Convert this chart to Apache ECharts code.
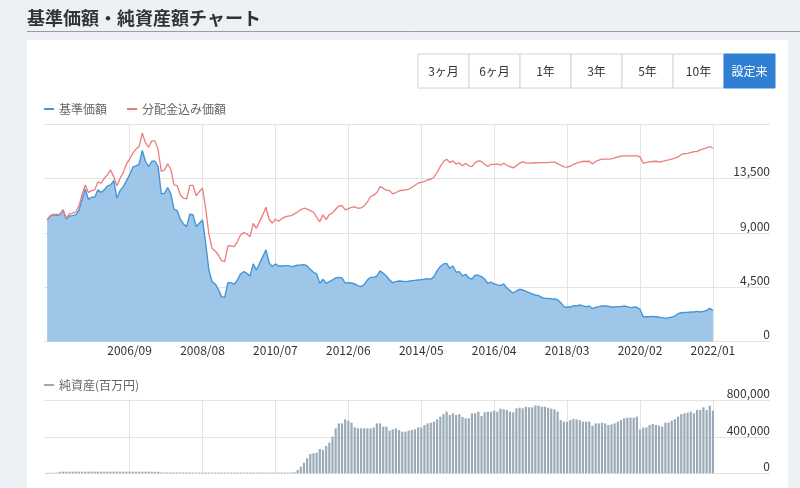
<!DOCTYPE html>
<html><head><meta charset="utf-8">
<script src="https://cdn.jsdelivr.net/npm/echarts@6.0.0/dist/echarts.min.js"></script>
<style>html,body{margin:0;padding:0;background:#edf0f4;}#c{width:800px;height:488px;}</style>
</head><body><div id="c"></div>
<script>
// ---- data ----
const startYear = 2004, startMonth = 7; // first data month 2004/07, monthly
const tickLabels = ['2006/09','2008/08','2010/07','2012/06','2014/05','2016/04','2018/03','2020/02','2022/01'];
const rangeButtons = ['3ヶ月','6ヶ月','1年','3年','5年','10年','設定来'];
const seriesNames = ['基準価額','分配金込み価額','純資産(百万円)'];

const navValues = [
10080,10410,10500,10470,10500,10910,10160,10410,10440,10500,
10860,11740,12620,11790,11960,11960,12570,12350,12570,12900,
12980,13340,11880,12510,12840,13310,13810,14450,14560,14690,
15830,14920,14500,14940,14940,14500,12240,12290,12760,12240,
10970,10860,10140,9750,9530,10550,10520,9530,9810,10080,
8150,5940,4970,4780,4340,3730,3670,4890,4890,4750,
5110,5610,5800,5660,5440,6440,5940,6490,7040,7600,
6550,6220,6440,6270,6270,6300,6300,6220,6270,6330,
6350,6380,6270,5990,5750,5610,4830,5170,4830,4970,
5110,5280,5330,5280,4860,4890,4860,4780,4640,4560,
4720,5110,5330,5330,5440,5860,5660,5440,5110,4890,
4970,5030,5000,4970,5000,5050,5080,5110,5140,5170,
5220,5170,5390,5880,6220,6440,6490,6080,6270,5750,
5800,5440,5580,5280,5190,5500,5500,5390,5170,4830,
4940,4780,4700,4640,4780,4450,4230,4030,4200,4340,
4280,4170,4060,3950,3870,3810,3670,3590,3590,3560,
3540,3480,3230,2900,2850,2870,2980,2960,3040,2960,
2900,2960,2730,2850,2900,2960,2960,2930,2870,2870,
2900,2900,2960,2900,2820,2850,2850,2680,2070,2070,
2070,2100,2070,2020,1990,1930,1990,2020,2130,2320,
2400,2430,2430,2460,2460,2510,2460,2510,2600,2760,2570
];
const navWithDividends = [
10080,10440,10550,10550,10550,10910,10220,10580,10630,10740,
11240,12150,12980,12350,12510,12570,13230,13120,13530,13810,
14220,13670,12900,13530,14000,14720,15110,15600,15940,16160,
17260,16490,16100,16630,16630,15880,14090,14220,14720,14280,
12980,12930,12150,11880,11820,12950,12950,12070,12430,12700,
11050,8920,7730,7510,7180,6710,6630,7930,7930,7870,
8290,8840,9030,8920,8700,9800,9390,9940,10500,11130,
10140,9810,10140,9970,10190,10330,10390,10440,10580,10740,
10940,11050,10970,10860,10740,10300,9940,10500,10110,10520,
10660,10970,11240,11270,10910,11020,11130,11160,11050,11080,
11240,11570,12020,12130,12350,12840,12710,12540,12510,12240,
12350,12480,12540,12570,12620,12760,12950,13120,13200,13260,
13400,13450,13620,14030,14500,14920,15110,14830,14970,14720,
14800,14560,14750,14560,14500,14830,14970,14920,14690,14500,
14690,14690,14720,14610,14780,14610,14500,14390,14560,14780,
14890,14800,14780,14780,14830,14800,14830,14830,14830,14860,
14860,14750,14610,14470,14450,14530,14690,14780,14860,14940,
14920,14940,14720,14920,15030,15110,15110,15110,15140,15220,
15300,15360,15380,15380,15380,15380,15380,15300,14780,14830,
14890,14920,14940,14890,14920,15000,15050,15110,15190,15300,
15500,15580,15600,15660,15740,15740,15880,15960,16050,16160,16020
];
const netAssets = [
5000,6000,6000,7000,17000,18000,18000,17000,18000,18000,
18000,17000,18000,18000,19000,18000,18000,18000,17000,18000,
18000,18000,19000,18000,18000,17000,18000,18000,18000,18000,
17000,17000,18000,18000,17000,16000,10000,9000,9000,9000,
9000,9000,9000,9000,9000,9000,8000,8000,8000,8000,
8000,8000,8000,8000,8000,8000,8000,8000,8000,8000,
8000,8000,8000,8000,8000,8000,8000,8000,8000,8000,
8000,8000,8000,8000,8000,8000,8000,9000,12000,37000,
73000,117000,165000,213000,220000,228000,268000,257000,301000,338000,
404000,495000,550000,550000,595000,580000,558000,506000,495000,495000,
495000,495000,495000,506000,550000,550000,514000,514000,470000,484000,
495000,477000,459000,459000,470000,477000,484000,506000,506000,532000,
550000,558000,569000,595000,624000,653000,679000,642000,661000,642000,
653000,620000,606000,606000,661000,661000,679000,631000,672000,679000,
679000,690000,679000,712000,705000,697000,679000,672000,716000,723000,
716000,734000,727000,727000,749000,745000,734000,734000,723000,712000,
705000,679000,587000,569000,569000,587000,598000,595000,587000,569000,
569000,569000,525000,550000,550000,558000,550000,532000,539000,550000,
569000,587000,606000,613000,613000,613000,624000,484000,503000,506000,
532000,543000,532000,525000,514000,558000,558000,580000,595000,624000,
650000,661000,668000,679000,661000,697000,697000,727000,697000,745000,690000
];

// ---- axis helpers ----
const leadPad = 1, tailPad = 18;
function monthLabel(off){const m=startYear*12+(startMonth-1)+off;return Math.floor(m/12)+'/'+String(m%12+1).padStart(2,'0');}
const categories=[];
for(let i=-leadPad;i<navValues.length+tailPad;i++)categories.push(monthLabel(i));
const pad=a=>[...Array(leadPad).fill(null),...a,...Array(tailPad).fill(null)];
const isTick=(i,v)=>tickLabels.indexOf(v)>=0;
const FONT='"Noto Sans CJK JP","Noto Sans",sans-serif';
const gridColor='#e4e4e4';

const btnX0=418,btnW=51,btnY=54,btnH=34;
const btnChildren=[];
rangeButtons.forEach((t,i)=>{
  const active=i===rangeButtons.length-1;
  btnChildren.push({type:'rect',shape:{x:btnX0+i*btnW,y:btnY,width:btnW,height:btnH},
    style:{fill:active?'#2f7fd2':'#fff',stroke:active?'#2f7fd2':'#ccd6e0',lineWidth:1}});
  btnChildren.push({type:'text',x:btnX0+i*btnW+btnW/2,y:btnY+btnH/2,
    style:{text:t,fill:active?'#fff':'#333',fontSize:12,fontFamily:FONT,align:'center',verticalAlign:'middle'}});
});

const chart=echarts.init(document.getElementById('c'),null,{renderer:'canvas'});
const xBase=(gi,showLabel)=>({type:'category',gridIndex:gi,data:categories,boundaryGap:false,
  axisLine:{show:false},axisTick:{show:false},
  axisLabel:{show:showLabel,interval:isTick,color:'#333',fontSize:12,margin:3,fontFamily:FONT},
  splitLine:{show:true,interval:isTick,lineStyle:{color:gridColor,width:1}}});
const yBase=(gi,max,interval)=>({type:'value',gridIndex:gi,position:'right',min:0,max:max,interval:interval,
  axisLine:{show:false},axisTick:{show:false},
  axisLabel:{inside:true,margin:0,verticalAlign:'bottom',padding:[0,0,1,0],color:'#333',fontSize:12,fontFamily:FONT,showMaxLabel:gi===1,
    formatter:v=>v.toLocaleString('en-US')},
  splitLine:{lineStyle:{color:gridColor,width:1}}});

chart.setOption({
  animation:false,
  backgroundColor:'#edf0f4',
  textStyle:{fontFamily:FONT},
  graphic:[
    {type:'rect',z:-1,shape:{x:27,y:40,width:761,height:460},style:{fill:'#fff'}},
    {type:'line',shape:{x1:27,y1:31.5,x2:800,y2:31.5},style:{stroke:'#9c9c9c',lineWidth:1}},
    {type:'text',x:27,y:18,style:{text:'基準価額・純資産額チャート',fill:'#333',fontSize:18,fontWeight:'bold',fontFamily:FONT,verticalAlign:'middle'}},
    {type:'group',children:btnChildren}
  ],
  legend:[
    {data:[seriesNames[0],seriesNames[1]],left:44,top:103,padding:0,icon:'rect',itemWidth:10,itemHeight:2,itemGap:20,
     textStyle:{color:'#666',fontSize:12,fontFamily:FONT}},
    {data:[seriesNames[2]],left:44,top:379,padding:0,icon:'rect',itemWidth:10,itemHeight:2,
     textStyle:{color:'#666',fontSize:12,fontFamily:FONT}}
  ],
  grid:[
    {left:44,right:30,top:124.3,height:217.4},
    {left:44,right:30,top:400.7,height:72.6}
  ],
  xAxis:[xBase(0,true),xBase(1,false)],
  yAxis:[yBase(0,18000,4500),yBase(1,800000,400000)],
  series:[
    {name:seriesNames[0],type:'line',xAxisIndex:0,yAxisIndex:0,data:pad(navValues),symbol:'none',
     itemStyle:{color:'#4596d8'},lineStyle:{color:'#4596d8',width:1.4},areaStyle:{color:'#9dc6e8',opacity:1}},
    {name:seriesNames[1],type:'line',xAxisIndex:0,yAxisIndex:0,data:pad(navWithDividends),symbol:'none',
     itemStyle:{color:'#ee7b7b'},lineStyle:{color:'#ee7b7b',width:1.3}},
    {name:seriesNames[2],type:'bar',xAxisIndex:1,yAxisIndex:1,data:pad(netAssets),barWidth:2.2,
     itemStyle:{color:'#9aaab7'}}
  ]
});
</script></body></html>
